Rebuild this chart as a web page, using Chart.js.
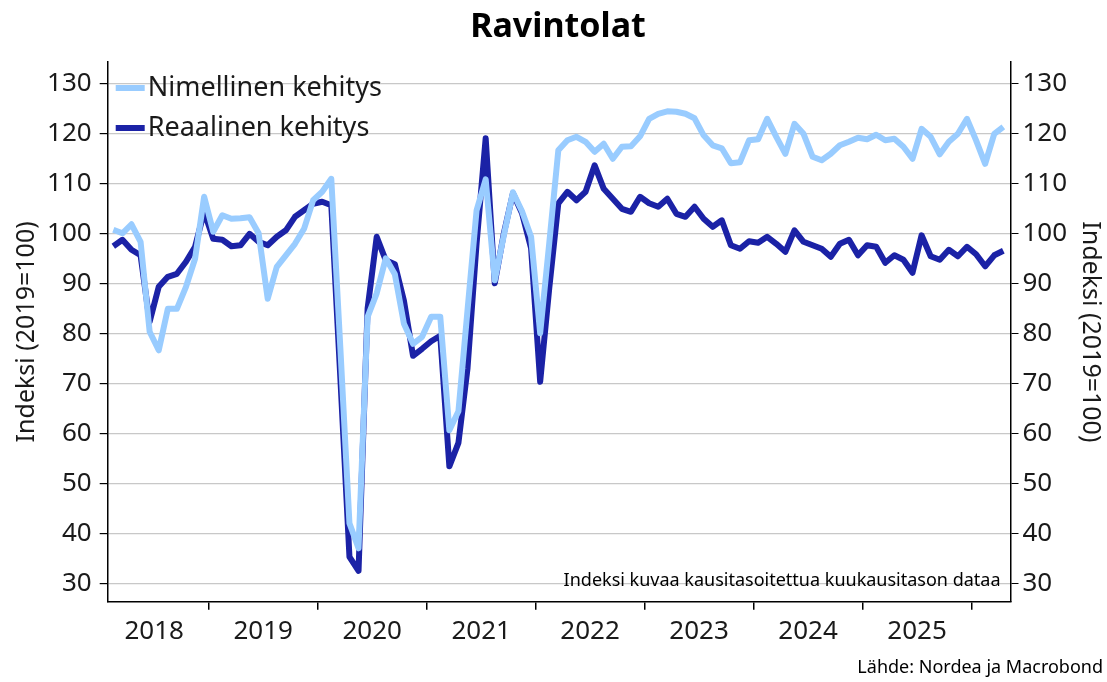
<!DOCTYPE html>
<html>
<head>
<meta charset="utf-8">
<script src="https://cdn.jsdelivr.net/npm/chart.js@4/dist/chart.umd.min.js"></script>
<style>
  body { margin: 0; background: #fff; }
  canvas { display: block; }
</style>
</head>
<body>
<canvas id="chart" width="1107" height="682"></canvas>
<script>
// Monthly index values (2019=100), first value is Feb 2018
const nimellinen = [
  100.7, 100.0, 101.8, 98.3, 80.3, 76.6, 84.9, 84.9, 89.3, 94.9,
  107.3, 100.3, 103.6, 102.9, 103.0, 103.2, 100.0, 86.9, 93.3, 95.6,
  97.9, 100.9, 106.6, 108.3, 110.9, 77.0, 42.0, 37.0, 83.3, 88.0,
  95.0, 91.8, 81.9, 77.9, 79.3, 83.3, 83.3, 60.6, 64.4, 84.6,
  104.6, 110.8, 90.6, 99.6, 108.2, 104.4, 99.3, 80.0, 98.0, 116.6,
  118.6, 119.3, 118.3, 116.3, 117.9, 114.9, 117.3, 117.4, 119.4, 122.9,
  123.9, 124.4, 124.3, 123.9, 123.0, 119.6, 117.6, 117.0, 114.0, 114.2,
  118.6, 118.8, 122.9, 119.3, 115.9, 121.9, 119.9, 115.3, 114.6, 115.9,
  117.6, 118.3, 119.1, 118.8, 119.7, 118.6, 118.9, 117.3, 114.9, 120.9,
  119.3, 115.8, 118.3, 119.9, 122.9, 118.6, 113.9, 119.9, 121.3
];
const reaalinen = [
  97.4, 98.7, 96.7, 95.6, 82.3, 89.3, 91.3, 91.9, 94.3, 97.3,
  104.3, 98.9, 98.7, 97.4, 97.6, 99.9, 98.3, 97.6, 99.3, 100.6,
  103.3, 104.6, 105.9, 106.3, 105.6, 71.0, 35.3, 32.5, 85.0, 99.3,
  94.6, 93.8, 86.5, 75.5, 76.9, 78.4, 79.5, 53.4, 58.1, 73.0,
  98.0, 119.0, 90.0, 100.0, 108.0, 104.0, 97.0, 70.3, 89.0, 106.0,
  108.3, 106.6, 108.3, 113.6, 108.9, 106.9, 104.9, 104.3, 107.3, 106.0,
  105.3, 106.9, 103.9, 103.3, 105.3, 102.9, 101.3, 102.6, 97.6, 96.9,
  98.4, 98.1, 99.3, 97.9, 96.3, 100.6, 98.3, 97.6, 96.9, 95.3,
  97.9, 98.7, 95.6, 97.6, 97.3, 94.1, 95.6, 94.7, 92.1, 99.6,
  95.4, 94.7, 96.7, 95.4, 97.3, 95.8, 93.4, 95.6, 96.5
];
const years = ['2018', '2019', '2020', '2021', '2022', '2023', '2024', '2025'];
const yTicks = [30, 40, 50, 60, 70, 80, 90, 100, 110, 120, 130];

const LIGHT = '#99ccff';
const DARK = '#1b22a6';
const FONT = "'Noto Sans', 'Open Sans', sans-serif";

// the first year boundary falls 10.5 months after the first point
const firstBoundary = 10.5;

function toPoints(arr) {
  return arr.map(function(v, i) { return { x: i, y: v }; });
}

// draws title, legend, year labels and footnotes
const extrasPlugin = {
  id: 'extras',
  afterDraw: function(chart) {
    const ctx = chart.ctx;
    const area = chart.chartArea;
    const xScale = chart.scales.x;
    ctx.save();

    // title
    ctx.fillStyle = '#000';
    ctx.font = 'bold 34px ' + FONT;
    ctx.textAlign = 'center';
    ctx.textBaseline = 'middle';
    ctx.fillText('Ravintolat', 558, 27);

    // year labels centred between the tick marks
    ctx.font = '26px ' + FONT;
    ctx.fillStyle = '#1a1a1a';
    years.forEach(function(y, k) {
      const x = xScale.getPixelForValue(firstBoundary - 6 + k * 12);
      ctx.fillText(y, x, 632);
    });

    // legend
    ctx.font = '27px ' + FONT;
    chart.data.datasets.forEach(function(ds, i) {
      const y = area.top + 26 + i * 40;
      ctx.strokeStyle = ds.borderColor;
      ctx.lineWidth = 6;
      ctx.beginPath();
      ctx.moveTo(area.left + 8, y);
      ctx.lineTo(area.left + 37, y);
      ctx.stroke();
      ctx.textAlign = 'left';
      ctx.fillStyle = '#1a1a1a';
      ctx.fillText(ds.label, area.left + 40, y);
    });

    // notes
    ctx.font = '18px ' + FONT;
    ctx.textAlign = 'right';
    ctx.fillStyle = '#000';
    ctx.fillText('Indeksi kuvaa kausitasoitettua kuukausitason dataa', area.right - 10, 581);
    ctx.fillText('Lähde: Nordea ja Macrobond', 1103, 668);
    ctx.restore();
  }
};

function setYTicks(scale) {
  scale.ticks = yTicks.map(function(v) { return { value: v }; });
}

const ctx = document.getElementById('chart').getContext('2d');
new Chart(ctx, {
  type: 'line',
  data: {
    datasets: [
      {
        label: 'Nimellinen kehitys',
        data: toPoints(nimellinen),
        borderColor: LIGHT,
        borderWidth: 6,
        pointRadius: 0,
        borderJoinStyle: 'round'
      },
      {
        label: 'Reaalinen kehitys',
        data: toPoints(reaalinen),
        borderColor: DARK,
        borderWidth: 6,
        pointRadius: 0,
        borderJoinStyle: 'round'
      }
    ]
  },
  options: {
    responsive: false,
    animation: false,
    devicePixelRatio: 1,
    layout: { padding: { top: 62 } },
    plugins: {
      legend: { display: false },
      tooltip: { enabled: false }
    },
    scales: {
      x: {
        type: 'linear',
        min: -0.62,
        max: 98.79,
        afterBuildTicks: function(scale) {
          scale.ticks = years.map(function(y, k) { return { value: firstBoundary + k * 12 }; });
        },
        afterFit: function(scale) { scale.height = 80.3; },
        ticks: { callback: function() { return ''; } },
        grid: { drawOnChartArea: false, tickLength: 8, color: '#000', lineWidth: 1.5 },
        border: { color: '#000', width: 1.5 }
      },
      y: {
        position: 'left',
        min: 26.32,
        max: 134.26,
        afterBuildTicks: setYTicks,
        afterFit: function(scale) { scale.width = 107.7; },
        ticks: { font: { family: FONT, size: 26 }, color: '#1a1a1a', padding: 8 },
        grid: { color: '#c8c8c8', lineWidth: 1.2, tickColor: '#000', tickLength: 8 },
        border: { color: '#000', width: 1.5 },
        title: {
          display: true,
          text: 'Indeksi (2019=100)',
          font: { family: FONT, size: 25 },
          color: '#1a1a1a',
          padding: { top: 12, bottom: 0 }
        }
      },
      y2: {
        position: 'right',
        min: 26.32,
        max: 134.26,
        afterBuildTicks: setYTicks,
        afterFit: function(scale) { scale.width = 96.5; },
        ticks: { font: { family: FONT, size: 26 }, color: '#1a1a1a', padding: 4 },
        grid: { drawOnChartArea: false, tickColor: '#000', tickLength: 8 },
        border: { color: '#000', width: 1.5 },
        title: {
          display: true,
          text: 'Indeksi (2019=100)',
          font: { family: FONT, size: 25 },
          color: '#1a1a1a',
          padding: { top: 2, bottom: 0 }
        }
      }
    }
  },
  plugins: [extrasPlugin]
});
</script>
</body>
</html>
